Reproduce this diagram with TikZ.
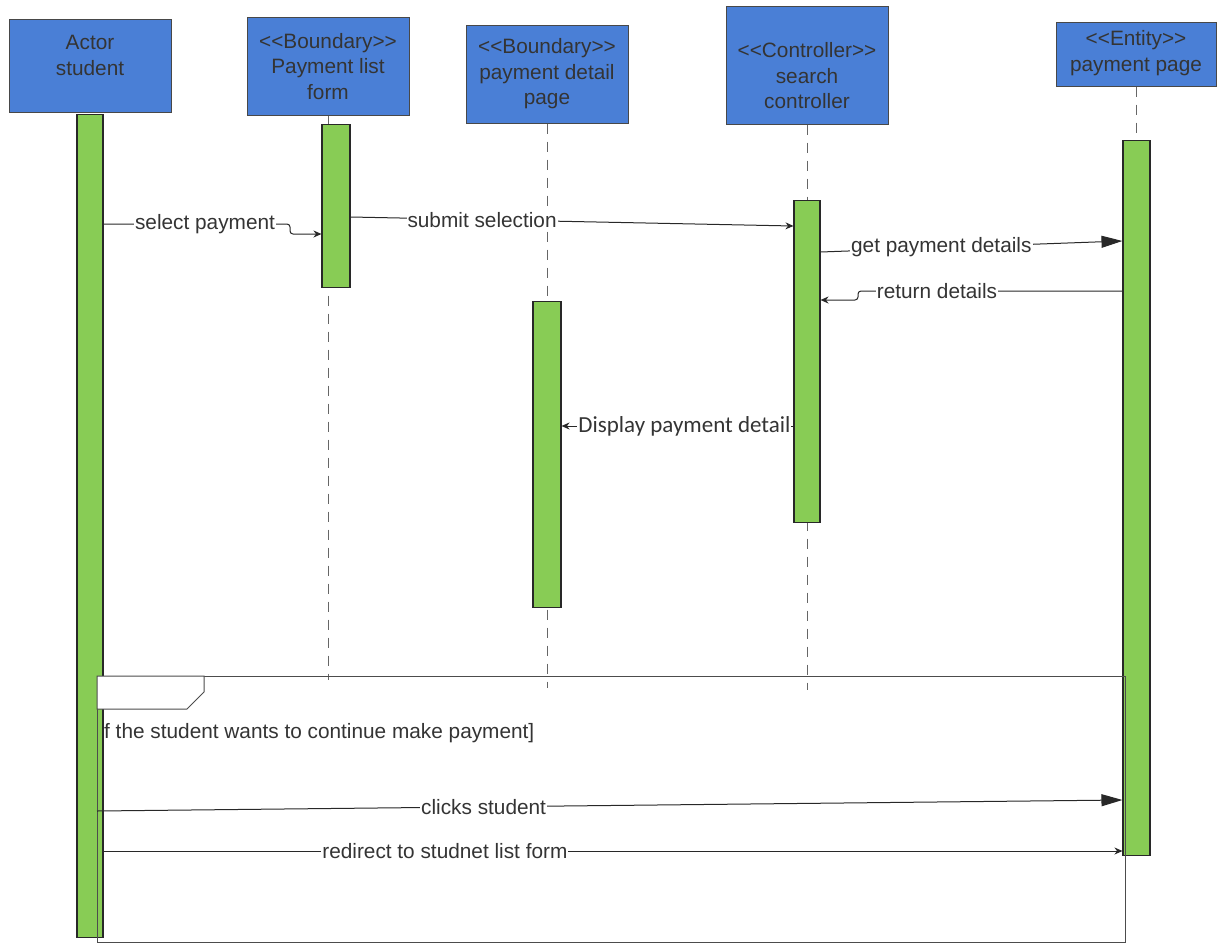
\documentclass[tikz,border=0pt]{standalone}
\usepackage{fontspec}
\setmainfont[Ligatures=TeXOff]{Liberation Sans}
\newfontfamily\calfont{Carlito}
\usetikzlibrary{arrows.meta}

\definecolor{headblue}{RGB}{74,127,214}
\definecolor{barfill}{RGB}{136,204,85}
\definecolor{ink}{RGB}{40,40,40}
\definecolor{txt}{RGB}{52,52,52}

\begin{document}
\begin{tikzpicture}[x=1pt,y=-1pt,
  head/.style={draw=ink!85, line width=1pt, fill=headblue, inner sep=0pt},
  htext/.style={align=center, text=txt, inner sep=0pt, font=\fontsize{20.8}{25.5}\selectfont},
  bar/.style={draw=ink, line width=1.1pt, fill=barfill, inner sep=0pt, anchor=north},
  life/.style={draw=gray!80!black, line width=1pt, dash pattern=on 10pt off 8pt},
  frame/.style={draw=gray!60!black, line width=1pt},
  msg/.style={draw=ink, line width=1pt},
  lbl/.style={fill=white, inner sep=1pt, text=txt, font=\fontsize{20.8}{24}\selectfont},
  small/.style={-{Stealth[length=8pt,width=7pt]}},
  big/.style={-{Triangle[length=21pt,width=12pt]}},
]
\useasboundingbox (0,0) rectangle (1218,945);
\fill[white] (0,0) rectangle (1218,945);

% lifeline heads
\node[head, minimum width=162pt, minimum height=93pt]  (h1) at (90,65.5) {};
\node[head, minimum width=162pt, minimum height=98pt]  (h2) at (328,66) {};
\node[head, minimum width=162pt, minimum height=98pt]  (h3) at (547,74) {};
\node[head, minimum width=162pt, minimum height=118pt] (h4) at (807,65) {};
\node[head, minimum width=160pt, minimum height=64pt]  (h5) at (1136,54) {};

\node[htext] (t1) at (90,55.5) {Actor\\student};
\node[htext] (t2) at (328,66.5) {<<Boundary>>\\Payment list\\form};
\node[htext] (t3) at (547,74) {<<Boundary>>\\payment detail\\page};
\node[htext] (t4) at (807,76) {<<Controller>>\\search\\controller};
\node[htext] (t5) at (1136,53) {<<Entity>>\\payment page};

% dashed lifelines
\draw[life] (h2.south) -- (h2.south |- 0,680);
\draw[life] (h3.south) -- (h3.south |- 0,688);
\draw[life] (h4.south) -- (h4.south |- 0,690);
\draw[life] (h5.south) -- (h5.south |- 0,855);

% activation bars
\node[bar, minimum width=26pt, minimum height=823pt] (a1) at (90,114) {};
\node[bar, minimum width=28pt, minimum height=163pt] (a2) at (336,124) {};
\node[bar, minimum width=28pt, minimum height=306pt] (a3) at (547,301) {};
\node[bar, minimum width=26pt, minimum height=322pt] (a4) at (807,200) {};
\node[bar, minimum width=27pt, minimum height=715pt] (a5) at (1136.5,140) {};

% combined fragment with its tab and guard
\node[frame, minimum width=1028pt, minimum height=266pt, inner sep=0pt, anchor=north west] (frag) at (97,676) {};
\draw[frame, fill=white] (frag.north west) -- (204,676) -- (204,692) -- (187,709) -- (frag.west |- 0,709) -- cycle;
\node[lbl, fill=none, inner sep=0pt, anchor=west] (guard) at (104,733) {f the student wants to continue make payment]};

% messages
\draw[msg, small, rounded corners=3pt] (a1.east |- 0,224) -- (290,224) -- (290,234) -- (a2.west |- 0,234);
\node[lbl] (m1) at (205,224) {select payment};

\draw[msg, small] (a2.east |- 0,217) -- (a4.west |- 0,226) node[lbl, pos=0.297] (m2) {submit selection};

\draw[msg, big] (a4.east |- 0,252) -- (a5.west |- 0,241) node[lbl, pos=0.40] (m3) {get payment details};

\draw[msg, small, rounded corners=3pt] (a5.west |- 0,291) -- (858,291) -- (858,300) -- (a4.east |- 0,300);
\node[lbl] (m4) at (937,291) {return details};

\draw[msg, small] (a4.west |- 0,426) -- (a3.east |- 0,426) node[lbl, pos=0.47, font=\calfont\fontsize{23}{26}\selectfont] (m5) {Display payment detail};

\draw[msg, big] (frag.west |- 0,811) -- (a5.west |- 0,800) node[lbl, pos=0.377] (m6) {clicks student};

\draw[msg, small] (a1.east |- 0,851) -- (a5.west |- 0,851) node[lbl, pos=0.335] (m7) {redirect to studnet list form};
\end{tikzpicture}
\end{document}
